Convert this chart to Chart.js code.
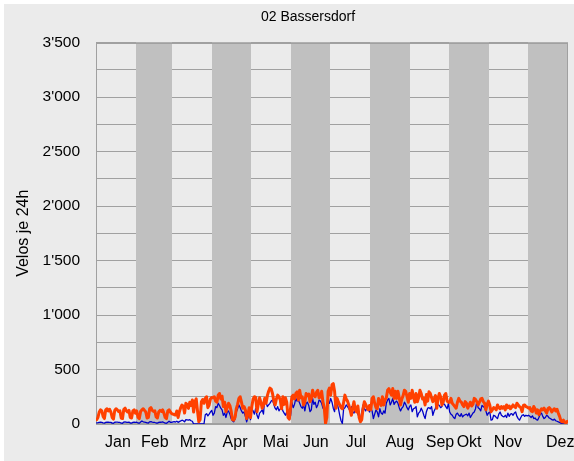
<!DOCTYPE html>
<html><head><meta charset="utf-8">
<script src="https://cdn.jsdelivr.net/npm/chart.js@4.4.1/dist/chart.umd.min.js"></script>
<style>
html,body{margin:0;padding:0;background:#fff;}
#wrap{position:absolute;left:4px;top:4px;width:570px;height:457px;background:#ebebeb;}
canvas{display:block;}
</style>
</head><body>
<div id="wrap"><canvas id="c" width="570" height="457"></canvas></div>
<script>
const chartTitle = "02 Bassersdorf";
const yAxisTitle = "Velos je 24h";
const monthLabels = ["Jan","Feb","Mrz","Apr","Mai","Jun","Jul","Aug","Sep","Okt","Nov","Dez"];
const monthDays = [31,28,31,30,31,30,31,31,30,31,30,31];
// day-of-year at which each month label is centred (as in the source chart)
const monthLabelDay = [17,45.5,75,107.5,139,170,201,235,266,288.5,318.5,359];
const yMax = 3500;
const yStep = 250;
const yLabelStep = 500;

// daily counts, direction 1 (orange)
const seriesOrange = [
 40,60,110,130,120,70,50,130,140,120,135,110,60,45,125,140,130,115,120,55,50,135,145,120,110,125,60,55,120,130,100,
 120,60,50,115,130,140,125,110,55,60,140,150,125,115,120,65,55,110,125,115,130,100,60,50,120,130,110,95,
 90,85,82,120,60,113,150,174,160,100,190,180,143,200,170,220,110,205,230,120,20,40,205,225,190,235,250,150,174,230,244,
 240,250,210,200,265,280,230,255,160,200,113,150,190,170,120,40,35,60,140,180,235,250,200,145,160,130,50,90,150,60,
 160,230,250,245,113,180,240,200,145,170,235,190,260,300,330,320,280,210,175,230,265,250,220,140,250,180,240,200,60,45,150,
 250,265,230,280,295,220,310,240,250,175,200,280,260,275,205,230,310,260,250,290,310,240,250,300,200,150,5,60,300,330,
 265,360,370,300,145,235,200,175,150,140,200,265,230,210,175,130,80,150,205,130,110,165,60,20,40,140,205,180,150,130,170,
 130,235,250,190,150,140,235,200,170,250,175,220,240,310,325,290,265,325,235,300,235,300,240,175,230,260,310,300,250,200,280,
 235,310,250,200,280,205,240,310,280,230,235,175,270,210,295,280,240,205,230,260,145,235,280,250,175,200,265,280,210,200,
 200,235,190,175,160,145,200,235,210,200,175,160,205,190,145,175,200,165,180,235,225,205,175,200,230,235,205,190,130,180,210,
 175,113,130,150,145,130,175,150,140,160,145,160,130,175,150,165,140,155,175,160,150,190,175,160,150,113,170,175,160,155,
 145,150,120,113,160,140,100,130,85,120,140,130,145,120,100,140,150,135,110,130,140,120,135,100,70,30,20,35,15,10,25
];

// daily counts, direction 2 (blue)
const seriesBlue = [
 10,12,15,18,15,10,8,15,18,16,14,15,8,7,16,18,17,15,14,8,7,18,20,16,15,17,9,8,15,18,14,
 16,9,8,18,28,20,18,15,10,9,20,22,18,15,14,9,8,15,18,16,20,14,8,7,15,25,16,14,
 20,22,18,25,15,22,28,35,30,20,40,38,35,40,30,25,0,0,0,0,0,0,0,0,0,85,95,75,90,110,125,
 80,100,160,150,190,170,145,130,80,100,60,110,120,90,50,30,20,45,110,140,175,150,120,100,110,70,20,60,100,40,
 140,120,90,145,80,50,100,113,130,90,235,200,160,175,190,210,220,180,145,130,160,120,140,170,120,100,80,110,60,40,80,
 200,150,180,235,210,220,190,160,145,175,120,190,200,170,113,130,235,180,200,150,175,220,210,190,145,130,100,110,205,190,
 235,200,145,113,250,190,140,80,30,5,140,150,175,160,140,120,160,113,100,130,145,90,65,40,110,175,140,120,150,140,110,
 145,120,50,90,130,110,65,140,100,90,120,100,190,220,235,175,200,235,180,200,210,190,150,120,145,160,200,180,150,130,160,
 175,113,140,145,160,65,100,113,145,120,80,50,113,145,150,140,160,80,120,145,200,180,170,150,160,190,180,160,140,190,
 110,90,80,60,50,90,100,80,70,95,65,80,85,90,75,100,60,80,100,110,140,205,150,140,120,170,160,150,120,80,100,
 110,35,40,80,75,60,50,90,110,80,70,65,80,60,100,70,90,95,80,100,110,70,50,35,60,80,85,70,80,75,
 80,70,60,75,50,55,40,35,60,90,100,70,50,60,80,70,55,50,40,35,45,30,25,20,15,8,5,10,5,15,20
];

const totalDays = monthDays.reduce((a,b)=>a+b,0);
const monthStarts = [];
{ let s = 0; monthDays.forEach(d => { monthStarts.push(s); s += d; }); }

function fmtThousands(v){
  if (v >= 1000) return Math.floor(v/1000) + "'" + String(v % 1000).padStart(3,'0');
  return String(v);
}

const FONT = "'Liberation Sans', Arial, sans-serif";
const GRID = '#a0a0a0';

const bandsPlugin = {
  id: 'bands',
  beforeDatasetsDraw(chart){
    const {ctx, chartArea: a, scales: {x}} = chart;
    ctx.save();
    ctx.fillStyle = '#c0c0c0';
    monthDays.forEach((d,i) => {
      if (i % 2 === 1) {
        const x0 = Math.round(x.getPixelForValue(monthStarts[i]));
        const x1 = Math.round(x.getPixelForValue(monthStarts[i] + d));
        ctx.fillRect(x0, a.top, x1 - x0, a.bottom - a.top);
      }
    });
    ctx.strokeStyle = GRID;
    ctx.lineWidth = 1;
    const l = Math.round(a.left) + 0.5, t = Math.round(a.top) + 0.5;
    const r = Math.round(a.right) - 0.5, b = Math.round(a.bottom) - 0.5;
    ctx.strokeRect(l, t, r - l, b - t);
    ctx.restore();
  },
  afterDraw(chart){
    const {ctx} = chart;
    ctx.save();
    ctx.fillStyle = '#000';
    ctx.font = "14px " + FONT;
    ctx.textAlign = 'center';
    ctx.textBaseline = 'middle';
    ctx.fillText(chartTitle, 304, 13);
    ctx.restore();
  }
};

new Chart(document.getElementById('c'), {
  type: 'line',
  data: {
    datasets: [
      { label: 'Richtung 1', data: seriesOrange.map((v,i)=>({x:i+0.5,y:v})),
        borderColor: '#ff4000', borderWidth: 3, pointRadius: 0, tension: 0, fill: false,
        borderJoinStyle: 'round', borderCapStyle: 'round' },
      { label: 'Richtung 2', data: seriesBlue.map((v,i)=>({x:i+0.5,y:v})),
        borderColor: '#0000c8', borderWidth: 1.3, pointRadius: 0, tension: 0, fill: false,
        borderJoinStyle: 'round', borderCapStyle: 'round' }
    ]
  },
  options: {
    responsive: false,
    animation: false,
    events: [],
    layout: { padding: { left: 0, right: 6, top: 38.5, bottom: 0 } },
    plugins: {
      legend: { display: false },
      tooltip: { enabled: false },
      title: { display: false }
    },
    scales: {
      x: {
        type: 'linear', min: 0, max: totalDays,
        afterBuildTicks: s => { s.ticks = monthLabelDay.map(v => ({value: v})); },
        afterFit: s => { s.height = 37; s.paddingLeft = 0; s.paddingRight = 0; },
        ticks: { autoSkip: false, maxRotation: 0, minRotation: 0, padding: 9, color: '#000',
          font: { family: FONT, size: 16 }, callback: (v, i) => monthLabels[i] },
        grid: { display: false, drawTicks: false },
        border: { display: false }
      },
      y: {
        min: 0, max: yMax,
        afterFit: s => { s.width = 92; },
        ticks: { stepSize: yStep, padding: 16, color: '#000', font: { family: FONT, size: 15.5 },
          callback: v => (v % yLabelStep === 0 ? fmtThousands(v) : '') },
        grid: { color: GRID, lineWidth: 1, drawTicks: false },
        border: { display: false },
        title: { display: true, text: yAxisTitle, color: '#000', font: { family: FONT, size: 16 },
          padding: { top: 10, bottom: 0 } }
      }
    }
  },
  plugins: [bandsPlugin]
});
</script>
</body></html>
